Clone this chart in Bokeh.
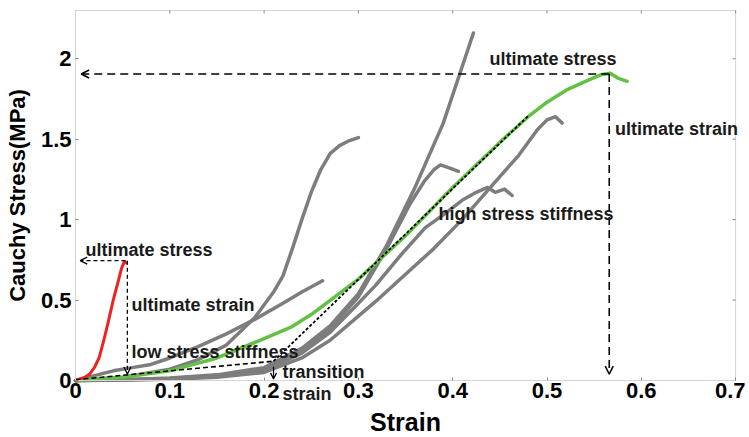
from bokeh.plotting import figure
from bokeh.models import Range1d, Label, Arrow, OpenHead, FixedTicker
from bokeh.embed import file_html
from bokeh.resources import INLINE

# ---------------- data ----------------
x_ticks = [0, 0.1, 0.2, 0.3, 0.4, 0.5, 0.6, 0.7]
x_tick_labels = ["0", "0.1", "0.2", "0.3", "0.4", "0.5", "0.6", "0.7"]
y_ticks = [0, 0.5, 1, 1.5, 2]
y_tick_labels = ["0", "0.5", "1", "1.5", "2"]
x_max = 0.7
y_max = 2.3

red_x = [0, 0.005, 0.01, 0.015, 0.02, 0.025, 0.03, 0.035, 0.04, 0.045, 0.049, 0.052, 0.054]
red_y = [0, 0.01, 0.02, 0.04, 0.08, 0.14, 0.25, 0.37, 0.50, 0.61, 0.70, 0.74, 0.73]

green_x = [0, 0.05, 0.1, 0.15, 0.2, 0.228, 0.25, 0.3, 0.35, 0.4, 0.45, 0.48, 0.5, 0.522, 0.545, 0.557, 0.567, 0.575, 0.585]
green_y = [0, 0.02, 0.06, 0.14, 0.26, 0.33, 0.41, 0.63, 0.90, 1.20, 1.48, 1.64, 1.73, 1.81, 1.87, 1.90, 1.91, 1.88, 1.86]

g1_x = [0, 0.05, 0.1, 0.15, 0.2, 0.24, 0.27, 0.3, 0.33, 0.36, 0.39, 0.41, 0.422]
g1_y = [0, 0.005, 0.015, 0.035, 0.08, 0.20, 0.34, 0.54, 0.84, 1.20, 1.60, 1.95, 2.16]

g2_x = [0, 0.05, 0.1, 0.13, 0.16, 0.19, 0.21, 0.22, 0.23, 0.24, 0.25, 0.26, 0.27, 0.28, 0.29, 0.3]
g2_y = [0, 0.02, 0.07, 0.13, 0.22, 0.39, 0.55, 0.65, 0.82, 1.00, 1.17, 1.31, 1.41, 1.46, 1.49, 1.51]

g3_x = [0, 0.02, 0.04, 0.06, 0.08, 0.1, 0.13, 0.16, 0.19, 0.22, 0.24, 0.262]
g3_y = [0, 0.03, 0.06, 0.08, 0.10, 0.14, 0.21, 0.29, 0.38, 0.48, 0.55, 0.62]

g4_x = [0, 0.05, 0.1, 0.15, 0.2, 0.24, 0.27, 0.3, 0.33, 0.355, 0.37, 0.38, 0.387, 0.397, 0.406]
g4_y = [0, 0.004, 0.012, 0.03, 0.07, 0.19, 0.32, 0.52, 0.82, 1.10, 1.24, 1.31, 1.34, 1.32, 1.30]

g5_x = [0, 0.05, 0.1, 0.15, 0.2, 0.24, 0.27, 0.3, 0.318, 0.345, 0.371, 0.39, 0.41, 0.425, 0.437, 0.445, 0.455, 0.463]
g5_y = [0, 0.003, 0.01, 0.025, 0.06, 0.17, 0.30, 0.48, 0.59, 0.78, 0.95, 1.03, 1.12, 1.17, 1.20, 1.17, 1.19, 1.15]

g6_x = [0, 0.05, 0.1, 0.15, 0.2, 0.24, 0.27, 0.3, 0.318, 0.35, 0.38, 0.41, 0.44, 0.47, 0.49, 0.5, 0.509, 0.516]
g6_y = [0, 0.003, 0.008, 0.02, 0.05, 0.14, 0.25, 0.40, 0.49, 0.66, 0.82, 1.00, 1.20, 1.40, 1.56, 1.62, 1.64, 1.60]

grey_x = [g1_x, g2_x, g3_x, g4_x, g5_x, g6_x]
grey_y = [g1_y, g2_y, g3_y, g4_y, g5_y, g6_y]

# annotation geometry (data units)
ult_stress_green = 1.905
ult_strain_green = 0.566
ult_stress_red = 0.745
ult_strain_red = 0.055
low_stiff_x = [0, 0.21]
low_stiff_y = [0.005, 0.12]
high_stiff_x = [0.21, 0.481]
high_stiff_y = [0.12, 1.65]
transition_strain = 0.21

texts = [
    ("ultimate stress", 0.439, 2.0),
    ("ultimate strain", 0.572, 1.566),
    ("high stress stiffness", 0.385, 1.038),
    ("ultimate stress", 0.0106, 0.814),
    ("ultimate strain", 0.0594, 0.472),
    ("low stress stiffness", 0.0594, 0.18),
    ("transition", 0.2195, 0.05),
    ("strain", 0.2195, -0.081),
]

FONT = "Liberation Sans"

# ---------------- layout ----------------
W, H = 745, 436
ORIGIN_PX = (75, 380)          # canvas position of data (0, 0)
PX_X = 943.0                   # pixels per strain unit
PX_Y = 370.0 / y_max           # pixels per MPa

x_range = Range1d(-ORIGIN_PX[0] / PX_X, (W - ORIGIN_PX[0]) / PX_X)
y_range = Range1d(-(H - ORIGIN_PX[1]) / PX_Y, ORIGIN_PX[1] / PX_Y)

p = figure(width=W, height=H, x_range=x_range, y_range=y_range,
           output_backend="svg", toolbar_location=None,
           min_border_left=0, min_border_right=0, min_border_top=0, min_border_bottom=0)
p.xgrid.visible = False
p.ygrid.visible = False
p.outline_line_color = None

AX_COLOR = "#d4d4d4"
TICK_COLOR = "#888888"

xax = p.below[0]
yax = p.left[0]
xax.fixed_location = 0
yax.fixed_location = 0
xax.bounds = (0, x_max)
yax.bounds = (0, y_max)
xax.ticker = FixedTicker(ticks=x_ticks)
yax.ticker = FixedTicker(ticks=y_ticks)
xax.major_label_overrides = {t: l for t, l in zip(x_ticks, x_tick_labels)}
yax.major_label_overrides = {t: l for t, l in zip(y_ticks, y_tick_labels)}
for ax in (xax, yax):
    ax.axis_line_color = AX_COLOR
    ax.major_tick_in = 3
    ax.major_tick_out = 0
    ax.minor_tick_line_color = None
    ax.major_tick_line_color = TICK_COLOR
    ax.major_label_text_font = FONT
    ax.major_label_text_font_style = "bold"
    ax.major_label_text_font_size = "22px"
    ax.major_label_text_color = "black"
    ax.axis_label_text_font = FONT
    ax.axis_label_text_font_style = "bold"
    ax.axis_label_text_color = "black"
xax.major_label_standoff = 2
yax.major_label_standoff = 4
yax.axis_label = "Cauchy Stress(MPa)"
yax.axis_label_text_font_size = "22px"
yax.axis_label_standoff = 8
xax.axis_label = "Strain"
xax.axis_label_text_font_size = "25px"
xax.axis_label_standoff = 7

# box edges (top and right) with small inward tick marks
p.line([0, x_max], [y_max, y_max], line_color=AX_COLOR, line_width=1)
p.line([x_max, x_max], [0, y_max], line_color=AX_COLOR, line_width=1)
p.segment(x0=x_ticks, y0=[y_max] * len(x_ticks), x1=x_ticks, y1=[y_max - 3 / PX_Y] * len(x_ticks),
          line_color=TICK_COLOR, line_width=1)
p.segment(x0=[x_max] * len(y_ticks), y0=y_ticks, x1=[x_max - 3 / PX_X] * len(y_ticks), y1=y_ticks,
          line_color=TICK_COLOR, line_width=1)

# ---------------- curves ----------------
for xs, ys in zip(grey_x, grey_y):
    p.line(xs, ys, line_color="#7d7d7d", line_width=3.5, line_join="round", line_cap="round")
p.line(green_x, green_y, line_color="#64c043", line_width=3.5, line_join="round", line_cap="round")
p.line(red_x, red_y, line_color="#ee2222", line_width=3, line_join="round", line_cap="round")

# dashed stiffness lines
p.line(low_stiff_x, low_stiff_y, line_color="black", line_width=1.6, line_dash="5 3")
p.line(high_stiff_x, high_stiff_y, line_color="black", line_width=1.8, line_dash="3 2")

# ultimate arrows (green)
p.add_layout(Arrow(end=OpenHead(size=8, line_width=1.5, line_color="black"),
                   x_start=ult_strain_green, y_start=ult_stress_green, x_end=0.006, y_end=ult_stress_green,
                   line_color="black", line_width=1.6, line_dash="8 5"))
p.add_layout(Arrow(end=OpenHead(size=8, line_width=1.5, line_color="black"),
                   x_start=ult_strain_green, y_start=ult_stress_green, x_end=ult_strain_green, y_end=0.04,
                   line_color="black", line_width=1.6, line_dash="8 5"))
# ultimate arrows (red)
p.add_layout(Arrow(end=OpenHead(size=7, line_width=1.3, line_color="black"),
                   x_start=ult_strain_red - 0.002, y_start=ult_stress_red, x_end=0.005, y_end=ult_stress_red,
                   line_color="black", line_width=1.3, line_dash="4 3"))
p.add_layout(Arrow(end=OpenHead(size=7, line_width=1.3, line_color="black"),
                   x_start=ult_strain_red, y_start=ult_stress_red, x_end=ult_strain_red, y_end=0.04,
                   line_color="black", line_width=1.3, line_dash="4 3"))
# transition arrow
p.add_layout(Arrow(end=OpenHead(size=6, line_width=1.2, line_color="black"),
                   x_start=transition_strain, y_start=0.085, x_end=transition_strain, y_end=0.01,
                   line_color="black", line_width=1.2))

for t, x, y in texts:
    p.add_layout(Label(x=x, y=y, text=t, text_font=FONT, text_font_style="bold",
                       text_font_size="18px", text_baseline="middle", text_align="left",
                       text_color="#1a1a1a"))

open("out.html", "w").write(file_html(p, INLINE))
